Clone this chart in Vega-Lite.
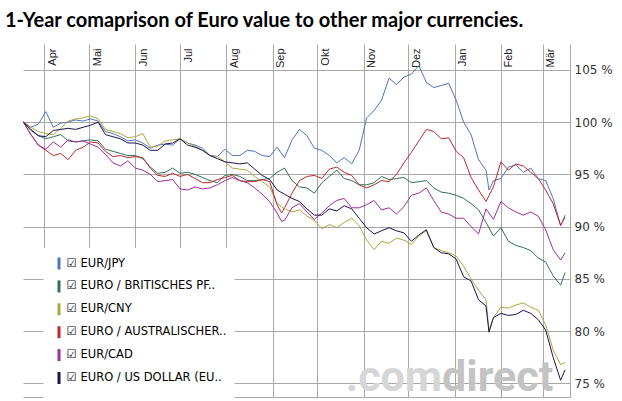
{
"$schema":"https://vega.github.io/schema/vega-lite/v6.json",
"width":547,"height":353,"autosize":"none",
"padding":{"left":23,"top":44,"right":52,"bottom":4},
"background":"white",
"config":{"view":{"stroke":null}},
"title":{"text":"1-Year comaprison of Euro value to other major currencies.","anchor":"start","frame":"group","font":"Lato","fontWeight":"bold","fontSize":20,"color":"#000","baseline":"alphabetic","offset":19,"dx":-18,"dy":22},
"layer":[
{"data":{"values":[{}]},"mark":{"type":"text","text":".com","align":"right","baseline":"alphabetic","font":"Roboto","fontWeight":"bold","fontSize":43,"color":"#d6d6d6"},
"encoding":{"x":{"datum":{"year":2014,"month":12,"date":23,"hours":14,"utc":true},"type":"temporal"},"y":{"datum":74.3,"type":"quantitative"}}},
{"data":{"values":[{}]},"mark":{"type":"text","text":"direct","align":"left","baseline":"alphabetic","font":"Roboto","fontWeight":"bold","fontSize":43,"color":"#c3c3c3"},
"encoding":{"x":{"datum":{"year":2014,"month":12,"date":23,"hours":14,"utc":true},"type":"temporal"},"y":{"datum":74.3,"type":"quantitative"}}},
{"data":{"format":{"parse":{"d":"utc:'%Y-%m-%d'"}},"values":[
{"s":"jpy","d":"2014-03-18","v":100.0},{"s":"jpy","d":"2014-03-23","v":99.5},{"s":"jpy","d":"2014-03-28","v":99.8},{"s":"jpy","d":"2014-04-02","v":101.0},{"s":"jpy","d":"2014-04-07","v":99.5},{"s":"jpy","d":"2014-04-12","v":99.9},{"s":"jpy","d":"2014-04-17","v":100.0},{"s":"jpy","d":"2014-04-22","v":100.2},{"s":"jpy","d":"2014-04-27","v":100.1},{"s":"jpy","d":"2014-05-02","v":100.3},
{"s":"jpy","d":"2014-05-07","v":100.1},{"s":"jpy","d":"2014-05-12","v":99.1},{"s":"jpy","d":"2014-05-17","v":98.9},{"s":"jpy","d":"2014-05-22","v":98.6},{"s":"jpy","d":"2014-05-27","v":98.2},{"s":"jpy","d":"2014-06-01","v":98.3},{"s":"jpy","d":"2014-06-06","v":98.0},{"s":"jpy","d":"2014-06-11","v":97.5},{"s":"jpy","d":"2014-06-16","v":97.8},{"s":"jpy","d":"2014-06-21","v":97.9},
{"s":"jpy","d":"2014-06-26","v":97.8},{"s":"jpy","d":"2014-07-01","v":98.4},{"s":"jpy","d":"2014-07-06","v":98.0},{"s":"jpy","d":"2014-07-11","v":97.8},{"s":"jpy","d":"2014-07-16","v":97.5},{"s":"jpy","d":"2014-07-21","v":96.8},{"s":"jpy","d":"2014-07-26","v":96.7},{"s":"jpy","d":"2014-07-31","v":97.4},{"s":"jpy","d":"2014-08-05","v":96.8},{"s":"jpy","d":"2014-08-10","v":96.8},
{"s":"jpy","d":"2014-08-15","v":97.3},{"s":"jpy","d":"2014-08-20","v":97.2},{"s":"jpy","d":"2014-08-25","v":96.8},{"s":"jpy","d":"2014-08-30","v":96.7},{"s":"jpy","d":"2014-09-04","v":97.6},{"s":"jpy","d":"2014-09-09","v":96.6},{"s":"jpy","d":"2014-09-14","v":98.3},{"s":"jpy","d":"2014-09-19","v":99.3},{"s":"jpy","d":"2014-09-24","v":98.7},{"s":"jpy","d":"2014-09-29","v":97.5},
{"s":"jpy","d":"2014-10-04","v":97.3},{"s":"jpy","d":"2014-10-09","v":96.8},{"s":"jpy","d":"2014-10-14","v":96.1},{"s":"jpy","d":"2014-10-19","v":96.6},{"s":"jpy","d":"2014-10-24","v":96.0},{"s":"jpy","d":"2014-10-29","v":97.3},{"s":"jpy","d":"2014-11-03","v":100.4},{"s":"jpy","d":"2014-11-08","v":101.1},{"s":"jpy","d":"2014-11-13","v":102.1},{"s":"jpy","d":"2014-11-18","v":104.2},
{"s":"jpy","d":"2014-11-23","v":103.6},{"s":"jpy","d":"2014-11-28","v":104.3},{"s":"jpy","d":"2014-12-03","v":104.6},{"s":"jpy","d":"2014-12-08","v":105.4},{"s":"jpy","d":"2014-12-13","v":103.8},{"s":"jpy","d":"2014-12-18","v":103.3},{"s":"jpy","d":"2014-12-23","v":103.5},{"s":"jpy","d":"2014-12-28","v":103.7},{"s":"jpy","d":"2015-01-02","v":102.1},{"s":"jpy","d":"2015-01-07","v":100.0},
{"s":"jpy","d":"2015-01-12","v":98.8},{"s":"jpy","d":"2015-01-17","v":96.4},{"s":"jpy","d":"2015-01-22","v":95.4},{"s":"jpy","d":"2015-01-24","v":93.5},{"s":"jpy","d":"2015-01-27","v":94.4},{"s":"jpy","d":"2015-02-01","v":94.6},{"s":"jpy","d":"2015-02-06","v":95.7},{"s":"jpy","d":"2015-02-11","v":95.9},{"s":"jpy","d":"2015-02-16","v":95.2},{"s":"jpy","d":"2015-02-21","v":95.6},
{"s":"jpy","d":"2015-02-26","v":94.6},{"s":"jpy","d":"2015-03-03","v":94.4},{"s":"jpy","d":"2015-03-08","v":92.7},{"s":"jpy","d":"2015-03-13","v":90.1},{"s":"jpy","d":"2015-03-16","v":91.1},

{"s":"gbp","d":"2014-03-18","v":100.0},{"s":"gbp","d":"2014-03-23","v":99.2},{"s":"gbp","d":"2014-03-28","v":98.7},{"s":"gbp","d":"2014-04-02","v":98.4},{"s":"gbp","d":"2014-04-07","v":98.6},{"s":"gbp","d":"2014-04-12","v":98.8},{"s":"gbp","d":"2014-04-17","v":98.2},{"s":"gbp","d":"2014-04-22","v":98.1},{"s":"gbp","d":"2014-04-27","v":98.2},{"s":"gbp","d":"2014-05-02","v":98.3},
{"s":"gbp","d":"2014-05-07","v":98.2},{"s":"gbp","d":"2014-05-12","v":97.4},{"s":"gbp","d":"2014-05-17","v":97.2},{"s":"gbp","d":"2014-05-22","v":97.0},{"s":"gbp","d":"2014-05-27","v":96.8},{"s":"gbp","d":"2014-06-01","v":96.8},{"s":"gbp","d":"2014-06-06","v":96.5},{"s":"gbp","d":"2014-06-11","v":95.7},{"s":"gbp","d":"2014-06-16","v":95.1},{"s":"gbp","d":"2014-06-21","v":95.2},
{"s":"gbp","d":"2014-06-26","v":95.6},{"s":"gbp","d":"2014-07-01","v":95.1},{"s":"gbp","d":"2014-07-06","v":95.2},{"s":"gbp","d":"2014-07-11","v":95.0},{"s":"gbp","d":"2014-07-16","v":94.7},{"s":"gbp","d":"2014-07-21","v":94.4},{"s":"gbp","d":"2014-07-26","v":94.2},{"s":"gbp","d":"2014-07-31","v":94.9},{"s":"gbp","d":"2014-08-05","v":95.0},{"s":"gbp","d":"2014-08-10","v":94.8},
{"s":"gbp","d":"2014-08-15","v":94.4},{"s":"gbp","d":"2014-08-20","v":94.4},{"s":"gbp","d":"2014-08-25","v":94.5},{"s":"gbp","d":"2014-08-30","v":94.6},{"s":"gbp","d":"2014-09-04","v":95.2},{"s":"gbp","d":"2014-09-09","v":95.6},{"s":"gbp","d":"2014-09-14","v":94.4},{"s":"gbp","d":"2014-09-19","v":93.8},{"s":"gbp","d":"2014-09-24","v":93.7},{"s":"gbp","d":"2014-09-29","v":93.2},
{"s":"gbp","d":"2014-10-04","v":94.2},{"s":"gbp","d":"2014-10-09","v":94.8},{"s":"gbp","d":"2014-10-14","v":95.4},{"s":"gbp","d":"2014-10-19","v":94.6},{"s":"gbp","d":"2014-10-24","v":94.4},{"s":"gbp","d":"2014-10-29","v":94.0},{"s":"gbp","d":"2014-11-03","v":94.0},{"s":"gbp","d":"2014-11-08","v":94.2},{"s":"gbp","d":"2014-11-13","v":94.8},{"s":"gbp","d":"2014-11-18","v":94.5},
{"s":"gbp","d":"2014-11-23","v":94.6},{"s":"gbp","d":"2014-11-28","v":94.7},{"s":"gbp","d":"2014-12-03","v":94.2},{"s":"gbp","d":"2014-12-08","v":94.3},{"s":"gbp","d":"2014-12-13","v":94.4},{"s":"gbp","d":"2014-12-18","v":93.7},{"s":"gbp","d":"2014-12-23","v":93.3},{"s":"gbp","d":"2014-12-28","v":93.2},{"s":"gbp","d":"2015-01-02","v":93.0},{"s":"gbp","d":"2015-01-07","v":92.7},
{"s":"gbp","d":"2015-01-12","v":92.2},{"s":"gbp","d":"2015-01-17","v":91.6},{"s":"gbp","d":"2015-01-22","v":90.4},{"s":"gbp","d":"2015-01-27","v":89.1},{"s":"gbp","d":"2015-02-01","v":89.9},{"s":"gbp","d":"2015-02-06","v":88.6},{"s":"gbp","d":"2015-02-11","v":88.2},{"s":"gbp","d":"2015-02-16","v":88.0},{"s":"gbp","d":"2015-02-21","v":87.7},{"s":"gbp","d":"2015-02-26","v":87.0},
{"s":"gbp","d":"2015-03-03","v":86.6},{"s":"gbp","d":"2015-03-08","v":85.3},{"s":"gbp","d":"2015-03-13","v":84.4},{"s":"gbp","d":"2015-03-16","v":85.6},

{"s":"cny","d":"2014-03-18","v":100.0},{"s":"cny","d":"2014-03-23","v":99.5},{"s":"cny","d":"2014-03-28","v":99.1},{"s":"cny","d":"2014-04-02","v":98.9},{"s":"cny","d":"2014-04-07","v":98.8},{"s":"cny","d":"2014-04-12","v":99.4},{"s":"cny","d":"2014-04-17","v":100.1},{"s":"cny","d":"2014-04-22","v":100.3},{"s":"cny","d":"2014-04-27","v":100.4},{"s":"cny","d":"2014-05-02","v":100.6},
{"s":"cny","d":"2014-05-07","v":100.3},{"s":"cny","d":"2014-05-12","v":99.3},{"s":"cny","d":"2014-05-17","v":99.1},{"s":"cny","d":"2014-05-22","v":98.9},{"s":"cny","d":"2014-05-27","v":98.5},{"s":"cny","d":"2014-06-01","v":98.6},{"s":"cny","d":"2014-06-06","v":98.9},{"s":"cny","d":"2014-06-11","v":97.6},{"s":"cny","d":"2014-06-16","v":97.7},{"s":"cny","d":"2014-06-21","v":98.2},
{"s":"cny","d":"2014-06-26","v":98.3},{"s":"cny","d":"2014-07-01","v":98.4},{"s":"cny","d":"2014-07-06","v":98.0},{"s":"cny","d":"2014-07-11","v":97.7},{"s":"cny","d":"2014-07-16","v":97.3},{"s":"cny","d":"2014-07-21","v":96.8},{"s":"cny","d":"2014-07-26","v":96.7},{"s":"cny","d":"2014-07-31","v":96.2},{"s":"cny","d":"2014-08-05","v":95.6},{"s":"cny","d":"2014-08-10","v":95.5},
{"s":"cny","d":"2014-08-15","v":95.4},{"s":"cny","d":"2014-08-20","v":94.8},{"s":"cny","d":"2014-08-25","v":94.3},{"s":"cny","d":"2014-08-30","v":93.8},{"s":"cny","d":"2014-09-04","v":92.2},{"s":"cny","d":"2014-09-09","v":91.7},{"s":"cny","d":"2014-09-14","v":91.4},{"s":"cny","d":"2014-09-19","v":91.6},{"s":"cny","d":"2014-09-24","v":91.0},{"s":"cny","d":"2014-09-29","v":90.6},
{"s":"cny","d":"2014-10-04","v":89.8},{"s":"cny","d":"2014-10-09","v":90.2},{"s":"cny","d":"2014-10-14","v":89.9},{"s":"cny","d":"2014-10-19","v":90.4},{"s":"cny","d":"2014-10-24","v":90.8},{"s":"cny","d":"2014-10-29","v":90.1},{"s":"cny","d":"2014-11-03","v":88.7},{"s":"cny","d":"2014-11-08","v":87.8},{"s":"cny","d":"2014-11-13","v":88.6},{"s":"cny","d":"2014-11-18","v":88.4},
{"s":"cny","d":"2014-11-23","v":88.9},{"s":"cny","d":"2014-11-28","v":88.7},{"s":"cny","d":"2014-12-03","v":88.3},{"s":"cny","d":"2014-12-08","v":89.1},{"s":"cny","d":"2014-12-13","v":89.6},{"s":"cny","d":"2014-12-18","v":88.0},{"s":"cny","d":"2014-12-23","v":87.7},{"s":"cny","d":"2014-12-28","v":87.5},{"s":"cny","d":"2015-01-02","v":87.2},{"s":"cny","d":"2015-01-07","v":86.2},
{"s":"cny","d":"2015-01-12","v":85.0},{"s":"cny","d":"2015-01-17","v":83.9},{"s":"cny","d":"2015-01-22","v":83.0},{"s":"cny","d":"2015-01-24","v":80.1},{"s":"cny","d":"2015-01-27","v":81.3},{"s":"cny","d":"2015-02-01","v":82.3},{"s":"cny","d":"2015-02-06","v":82.2},{"s":"cny","d":"2015-02-11","v":82.5},{"s":"cny","d":"2015-02-16","v":82.7},{"s":"cny","d":"2015-02-21","v":82.3},
{"s":"cny","d":"2015-02-26","v":82.0},{"s":"cny","d":"2015-03-03","v":80.6},{"s":"cny","d":"2015-03-08","v":78.2},{"s":"cny","d":"2015-03-13","v":76.8},{"s":"cny","d":"2015-03-16","v":77.0},

{"s":"aud","d":"2014-03-18","v":100.0},{"s":"aud","d":"2014-03-23","v":98.8},{"s":"aud","d":"2014-03-28","v":97.8},{"s":"aud","d":"2014-04-02","v":97.3},{"s":"aud","d":"2014-04-07","v":96.8},{"s":"aud","d":"2014-04-12","v":97.0},{"s":"aud","d":"2014-04-17","v":96.4},{"s":"aud","d":"2014-04-22","v":97.3},{"s":"aud","d":"2014-04-27","v":97.6},{"s":"aud","d":"2014-05-02","v":98.1},
{"s":"aud","d":"2014-05-07","v":98.0},{"s":"aud","d":"2014-05-12","v":97.2},{"s":"aud","d":"2014-05-17","v":96.7},{"s":"aud","d":"2014-05-22","v":96.8},{"s":"aud","d":"2014-05-27","v":96.6},{"s":"aud","d":"2014-06-01","v":96.7},{"s":"aud","d":"2014-06-06","v":96.6},{"s":"aud","d":"2014-06-11","v":95.6},{"s":"aud","d":"2014-06-16","v":94.9},{"s":"aud","d":"2014-06-21","v":94.8},
{"s":"aud","d":"2014-06-26","v":95.1},{"s":"aud","d":"2014-07-01","v":94.8},{"s":"aud","d":"2014-07-06","v":95.0},{"s":"aud","d":"2014-07-11","v":94.6},{"s":"aud","d":"2014-07-16","v":94.2},{"s":"aud","d":"2014-07-21","v":94.2},{"s":"aud","d":"2014-07-26","v":94.5},{"s":"aud","d":"2014-07-31","v":94.7},{"s":"aud","d":"2014-08-05","v":94.9},{"s":"aud","d":"2014-08-10","v":94.4},
{"s":"aud","d":"2014-08-15","v":94.3},{"s":"aud","d":"2014-08-20","v":94.3},{"s":"aud","d":"2014-08-25","v":94.5},{"s":"aud","d":"2014-08-30","v":94.3},{"s":"aud","d":"2014-09-04","v":92.1},{"s":"aud","d":"2014-09-07","v":91.3},{"s":"aud","d":"2014-09-09","v":91.8},{"s":"aud","d":"2014-09-14","v":93.2},{"s":"aud","d":"2014-09-19","v":94.4},{"s":"aud","d":"2014-09-24","v":94.8},{"s":"aud","d":"2014-09-29","v":94.9},
{"s":"aud","d":"2014-10-04","v":94.6},{"s":"aud","d":"2014-10-09","v":95.5},{"s":"aud","d":"2014-10-14","v":95.7},{"s":"aud","d":"2014-10-19","v":95.2},{"s":"aud","d":"2014-10-24","v":94.9},{"s":"aud","d":"2014-10-29","v":94.0},{"s":"aud","d":"2014-11-03","v":93.7},{"s":"aud","d":"2014-11-08","v":94.0},{"s":"aud","d":"2014-11-13","v":94.4},{"s":"aud","d":"2014-11-18","v":94.3},
{"s":"aud","d":"2014-11-23","v":95.0},{"s":"aud","d":"2014-11-28","v":96.1},{"s":"aud","d":"2014-12-03","v":97.1},{"s":"aud","d":"2014-12-08","v":98.2},{"s":"aud","d":"2014-12-13","v":99.3},{"s":"aud","d":"2014-12-18","v":99.1},{"s":"aud","d":"2014-12-23","v":98.4},{"s":"aud","d":"2014-12-28","v":98.5},{"s":"aud","d":"2015-01-02","v":97.2},{"s":"aud","d":"2015-01-07","v":96.6},
{"s":"aud","d":"2015-01-12","v":94.7},{"s":"aud","d":"2015-01-17","v":93.5},{"s":"aud","d":"2015-01-22","v":92.4},{"s":"aud","d":"2015-01-27","v":93.8},{"s":"aud","d":"2015-02-01","v":96.2},{"s":"aud","d":"2015-02-06","v":95.4},{"s":"aud","d":"2015-02-11","v":96.0},{"s":"aud","d":"2015-02-16","v":95.8},{"s":"aud","d":"2015-02-21","v":95.2},{"s":"aud","d":"2015-02-26","v":94.6},
{"s":"aud","d":"2015-03-03","v":93.5},{"s":"aud","d":"2015-03-08","v":92.2},{"s":"aud","d":"2015-03-13","v":90.1},{"s":"aud","d":"2015-03-16","v":90.9},

{"s":"cad","d":"2014-03-18","v":100.0},{"s":"cad","d":"2014-03-23","v":98.8},{"s":"cad","d":"2014-03-28","v":97.8},{"s":"cad","d":"2014-04-02","v":97.4},{"s":"cad","d":"2014-04-07","v":98.1},{"s":"cad","d":"2014-04-12","v":97.6},{"s":"cad","d":"2014-04-17","v":98.3},{"s":"cad","d":"2014-04-22","v":98.1},{"s":"cad","d":"2014-04-27","v":98.2},{"s":"cad","d":"2014-05-02","v":97.9},
{"s":"cad","d":"2014-05-07","v":97.6},{"s":"cad","d":"2014-05-12","v":96.9},{"s":"cad","d":"2014-05-17","v":96.1},{"s":"cad","d":"2014-05-22","v":95.8},{"s":"cad","d":"2014-05-27","v":96.3},{"s":"cad","d":"2014-06-01","v":95.6},{"s":"cad","d":"2014-06-06","v":95.4},{"s":"cad","d":"2014-06-11","v":95.0},{"s":"cad","d":"2014-06-16","v":94.3},{"s":"cad","d":"2014-06-21","v":94.4},
{"s":"cad","d":"2014-06-26","v":94.5},{"s":"cad","d":"2014-07-01","v":93.6},{"s":"cad","d":"2014-07-06","v":93.5},{"s":"cad","d":"2014-07-11","v":93.8},{"s":"cad","d":"2014-07-16","v":93.6},{"s":"cad","d":"2014-07-21","v":93.7},{"s":"cad","d":"2014-07-26","v":94.0},{"s":"cad","d":"2014-07-31","v":94.4},{"s":"cad","d":"2014-08-05","v":94.7},{"s":"cad","d":"2014-08-10","v":94.4},
{"s":"cad","d":"2014-08-15","v":94.2},{"s":"cad","d":"2014-08-20","v":93.7},{"s":"cad","d":"2014-08-25","v":93.1},{"s":"cad","d":"2014-08-30","v":92.4},{"s":"cad","d":"2014-09-04","v":91.3},{"s":"cad","d":"2014-09-07","v":90.5},{"s":"cad","d":"2014-09-09","v":90.6},{"s":"cad","d":"2014-09-14","v":91.8},{"s":"cad","d":"2014-09-19","v":92.2},{"s":"cad","d":"2014-09-24","v":91.4},{"s":"cad","d":"2014-09-29","v":90.7},
{"s":"cad","d":"2014-10-04","v":91.3},{"s":"cad","d":"2014-10-09","v":92.0},{"s":"cad","d":"2014-10-14","v":92.5},{"s":"cad","d":"2014-10-19","v":92.7},{"s":"cad","d":"2014-10-24","v":91.8},{"s":"cad","d":"2014-10-29","v":91.8},{"s":"cad","d":"2014-11-03","v":92.1},{"s":"cad","d":"2014-11-08","v":92.5},{"s":"cad","d":"2014-11-13","v":91.6},{"s":"cad","d":"2014-11-18","v":91.8},
{"s":"cad","d":"2014-11-23","v":91.2},{"s":"cad","d":"2014-11-28","v":91.9},{"s":"cad","d":"2014-12-03","v":93.0},{"s":"cad","d":"2014-12-08","v":93.2},{"s":"cad","d":"2014-12-13","v":93.7},{"s":"cad","d":"2014-12-18","v":92.5},{"s":"cad","d":"2014-12-23","v":91.4},{"s":"cad","d":"2014-12-28","v":91.2},{"s":"cad","d":"2015-01-02","v":90.8},{"s":"cad","d":"2015-01-07","v":90.8},
{"s":"cad","d":"2015-01-12","v":90.0},{"s":"cad","d":"2015-01-17","v":89.3},{"s":"cad","d":"2015-01-22","v":91.7},{"s":"cad","d":"2015-01-27","v":90.7},{"s":"cad","d":"2015-02-01","v":92.4},{"s":"cad","d":"2015-02-06","v":91.8},{"s":"cad","d":"2015-02-11","v":91.4},{"s":"cad","d":"2015-02-16","v":91.1},{"s":"cad","d":"2015-02-21","v":91.4},{"s":"cad","d":"2015-02-26","v":91.0},
{"s":"cad","d":"2015-03-03","v":89.7},{"s":"cad","d":"2015-03-08","v":87.8},{"s":"cad","d":"2015-03-13","v":86.8},{"s":"cad","d":"2015-03-16","v":87.5},

{"s":"usd","d":"2014-03-18","v":100.0},{"s":"usd","d":"2014-03-23","v":99.3},{"s":"usd","d":"2014-03-28","v":98.7},{"s":"usd","d":"2014-04-02","v":98.6},{"s":"usd","d":"2014-04-07","v":99.2},{"s":"usd","d":"2014-04-12","v":99.3},{"s":"usd","d":"2014-04-17","v":99.4},{"s":"usd","d":"2014-04-22","v":99.3},{"s":"usd","d":"2014-04-27","v":99.5},{"s":"usd","d":"2014-05-02","v":99.7},
{"s":"usd","d":"2014-05-07","v":100.0},{"s":"usd","d":"2014-05-12","v":98.8},{"s":"usd","d":"2014-05-17","v":98.6},{"s":"usd","d":"2014-05-22","v":98.4},{"s":"usd","d":"2014-05-27","v":98.0},{"s":"usd","d":"2014-06-01","v":98.0},{"s":"usd","d":"2014-06-06","v":97.8},{"s":"usd","d":"2014-06-11","v":97.3},{"s":"usd","d":"2014-06-16","v":97.3},{"s":"usd","d":"2014-06-21","v":97.9},
{"s":"usd","d":"2014-06-26","v":98.0},{"s":"usd","d":"2014-07-01","v":98.4},{"s":"usd","d":"2014-07-06","v":97.8},{"s":"usd","d":"2014-07-11","v":97.6},{"s":"usd","d":"2014-07-16","v":97.3},{"s":"usd","d":"2014-07-21","v":96.8},{"s":"usd","d":"2014-07-26","v":96.5},{"s":"usd","d":"2014-07-31","v":96.2},{"s":"usd","d":"2014-08-05","v":96.1},{"s":"usd","d":"2014-08-10","v":96.0},
{"s":"usd","d":"2014-08-15","v":96.1},{"s":"usd","d":"2014-08-20","v":95.5},{"s":"usd","d":"2014-08-25","v":94.9},{"s":"usd","d":"2014-08-30","v":94.5},{"s":"usd","d":"2014-09-04","v":93.5},{"s":"usd","d":"2014-09-09","v":93.1},{"s":"usd","d":"2014-09-14","v":92.7},{"s":"usd","d":"2014-09-19","v":92.4},{"s":"usd","d":"2014-09-24","v":91.7},{"s":"usd","d":"2014-09-29","v":91.1},
{"s":"usd","d":"2014-10-04","v":91.1},{"s":"usd","d":"2014-10-09","v":91.7},{"s":"usd","d":"2014-10-14","v":91.5},{"s":"usd","d":"2014-10-19","v":92.0},{"s":"usd","d":"2014-10-24","v":91.7},{"s":"usd","d":"2014-10-29","v":90.8},{"s":"usd","d":"2014-11-03","v":89.9},{"s":"usd","d":"2014-11-08","v":89.3},{"s":"usd","d":"2014-11-13","v":89.6},{"s":"usd","d":"2014-11-18","v":89.9},
{"s":"usd","d":"2014-11-23","v":89.6},{"s":"usd","d":"2014-11-28","v":89.4},{"s":"usd","d":"2014-12-03","v":88.6},{"s":"usd","d":"2014-12-08","v":89.2},{"s":"usd","d":"2014-12-13","v":89.7},{"s":"usd","d":"2014-12-18","v":88.0},{"s":"usd","d":"2014-12-23","v":87.5},{"s":"usd","d":"2014-12-28","v":87.4},{"s":"usd","d":"2015-01-02","v":86.9},{"s":"usd","d":"2015-01-07","v":85.2},
{"s":"usd","d":"2015-01-12","v":84.8},{"s":"usd","d":"2015-01-17","v":83.0},{"s":"usd","d":"2015-01-22","v":82.4},{"s":"usd","d":"2015-01-24","v":79.9},{"s":"usd","d":"2015-01-27","v":81.3},{"s":"usd","d":"2015-02-01","v":81.7},{"s":"usd","d":"2015-02-06","v":81.5},{"s":"usd","d":"2015-02-11","v":81.6},{"s":"usd","d":"2015-02-16","v":82.0},{"s":"usd","d":"2015-02-21","v":81.7},
{"s":"usd","d":"2015-02-26","v":81.1},{"s":"usd","d":"2015-03-03","v":80.1},{"s":"usd","d":"2015-03-08","v":77.5},{"s":"usd","d":"2015-03-13","v":75.3},{"s":"usd","d":"2015-03-16","v":76.3}
]},
"mark":{"type":"line","strokeWidth":1,"interpolate":"linear"},
"encoding":{
"x":{"field":"d","type":"temporal",
"scale":{"type":"utc","domain":[{"year":2014,"month":3,"date":17,"hours":17,"utc":true},{"year":2015,"month":3,"date":19,"hours":7,"utc":true}]},
"axis":{"orient":"top","title":null,"tickCount":{"interval":"month","step":1},
"labelExpr":"['Jan','Feb','Mär','Apr','Mai','Jun','Jul','Aug','Sep','Okt','Nov','Dez'][utcmonth(datum.value)]",
"grid":true,"gridColor":"#a8a8a8","gridOpacity":1,"domain":false,"ticks":false,"tickSize":0,
"labelAngle":270,"labelAlign":"right","labelBaseline":"top","labelPadding":-4,"labelOffset":2,
"labelFont":"Liberation Sans","labelFontSize":11,"labelColor":"#222","labelFlush":false,"labelOverlap":false,"labelBound":false}},
"y":{"field":"v","type":"quantitative",
"scale":{"domain":[73.7,107.47],"nice":false,"zero":false},
"axis":{"orient":"right","title":null,"values":[73.7,75,80,85,90,95,100,105],
"labelExpr":"datum.value < 74 ? '' : datum.value + ' %'",
"grid":true,"gridColor":"#a8a8a8","gridOpacity":1,"domain":true,"domainColor":"#a8a8a8","ticks":false,"labelPadding":4,
"labelFont":"DejaVu Sans","labelFontSize":12,"labelColor":"#333","labelFlush":false}},
"color":{"field":"s","type":"nominal",
"scale":{"domain":["jpy","gbp","cny","aud","cad","usd"],"range":["#4f74c0","#2f7352","#aaa83a","#c0282d","#a02aa0","#1c1250"]},
"legend":{"orient":"none","legendX":20.5,"legendY":204,"direction":"vertical","title":null,"fillColor":"#ffffff","padding":8,
"symbolType":"M0,-1V1","symbolSize":144,"symbolStrokeWidth":3,"symbolOpacity":1,
"labelFont":"DejaVu Sans","labelFontSize":11.5,"labelColor":"#000","labelOffset":0,"rowPadding":-2.1,"labelLimit":300,
"labelExpr":"datum.label=='jpy'?'☑ EUR/JPY':datum.label=='gbp'?'☑ EURO / BRITISCHES PF..':datum.label=='cny'?'☑ EUR/CNY':datum.label=='aud'?'☑ EURO / AUSTRALISCHER..\u00a0\u00a0\u00a0\u00a0\u00a0':datum.label=='cad'?'☑ EUR/CAD':'☑ EURO / US DOLLAR (EU..'"}}
}}
]
}
